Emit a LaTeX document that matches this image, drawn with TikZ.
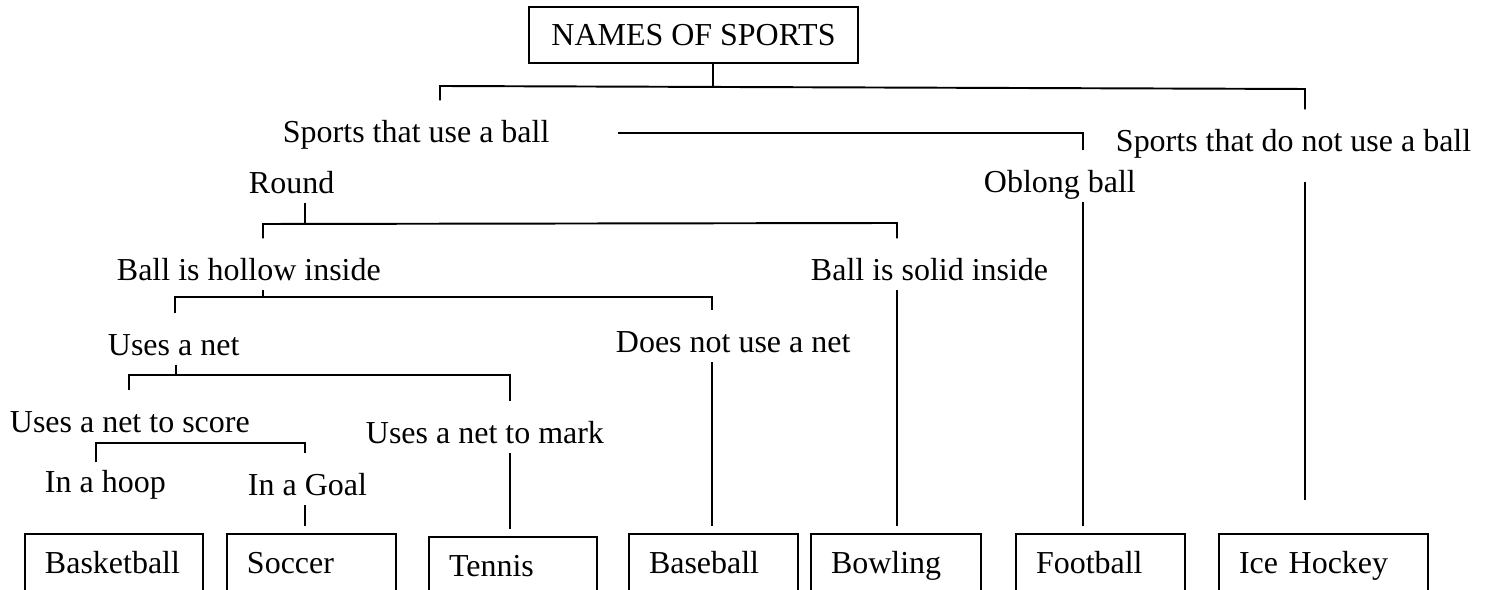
\documentclass[tikz,border=0pt]{standalone}
\usepackage{fontspec}
\setmainfont{Liberation Serif}
\usetikzlibrary{calc}

\begin{document}
\begin{tikzpicture}[x=0.02cm,y=-0.02cm,line width=1.1pt,
	font=\fontsize{18.2pt}{22pt}\selectfont,
	lbl/.style={anchor=base west,inner sep=0pt,text height=23.7pt,text depth=4.5pt},
	sport/.style={draw,anchor=north west,inner xsep=0.4cm,inner ysep=0pt,outer xsep=0pt,outer ysep=0.16cm,
		minimum height=1.28cm,text height=12.7pt,text depth=4.5pt,align=left,text width=#1}]
\clip (0,0) rectangle (1487,590);
\path (693.5,35) node[draw,minimum width=6.58cm,minimum height=1.12cm,inner sep=0pt] (title) {NAMES OF SPORTS}
		(282,143) node[lbl] (ball) {Sports that use a ball}
		(1115,152) node[lbl] (noball) {Sports that do not use a ball}
		(248,194) node[lbl] (round) {Round}
		(983,193) node[lbl] (oblong) {Oblong ball}
		(116,281) node[lbl] (hollow) {Ball is hollow inside}
		(810,281) node[lbl] (solid) {Ball is solid inside}
		(107,356) node[lbl] (net) {Uses a net}
		(615,353) node[lbl] (nonet) {Does not use a net}
		(9,433) node[lbl] (score) {Uses a net to score}
		(365,444) node[lbl] (mark) {Uses a net to mark}
		(44,493) node[lbl] (hoop) {In a hoop}
		(247,496) node[lbl] (goal) {In a Goal}
		;
\path (25,526) node[sport=2.76cm] (basketball) {Basketball}
		(227,526) node[sport=2.58cm] (soccer) {Soccer}
		(429,529) node[sport=2.56cm] (tennis) {Tennis}
		(629,526) node[sport=2.58cm] (baseball) {Baseball}
		(811,526) node[sport=2.6cm] (bowling) {Bowling}
		(1016,526) node[sport=2.58cm] (football) {Football}
		(1219,526) node[sport=3.38cm] (icehockey) {Ice Hockey}
		;
\coordinate (balltail) at (618,133);
\draw (title.south -| 713,0) -- (713,86);
\draw (ball.north -| 440,0) -- (440,86) -- (1305,89) -- (noball.north -| 1305,0);
\draw (balltail) -- (1083,133) -- (oblong.north -| 1083,0);
\draw (oblong.south -| 1083,0) -- (football.north -| 1083,0);
\draw ($(noball.south -| 1305,0)+(0,21)$) -- ($(icehockey.north -| 1305,0)+(0,-26)$);
\draw (round.south -| 305,0) -- (305,224);
\draw (hollow.north -| 263,0) -- (263,224) -- (897,223) -- (solid.north -| 897,0);
\draw (solid.south -| 897,0) -- (bowling.north -| 897,0);
\draw (hollow.south -| 263,0) -- (263,297);
\draw (net.north -| 175,0) -- (175,297) -- (712,297) -- (nonet.north -| 712,0);
\draw (nonet.south -| 712,0) -- (baseball.north -| 712,0);
\draw (net.south -| 176,0) -- (176,375);
\draw (score.north -| 129,0) -- (129,375) -- (510,375) -- (mark.north -| 510,0);
\draw (mark.south -| 510,0) -- (tennis.north -| 510,0);
\draw (score.south -| 156,0) -- (156,443);
\draw ($(hoop.north -| 96,0)+(0,12)$) -- (96,443) -- (305,443) -- (goal.north -| 305,0);
\draw (goal.south -| 305,0) -- (soccer.north -| 305,0);
\end{tikzpicture}
\end{document}
